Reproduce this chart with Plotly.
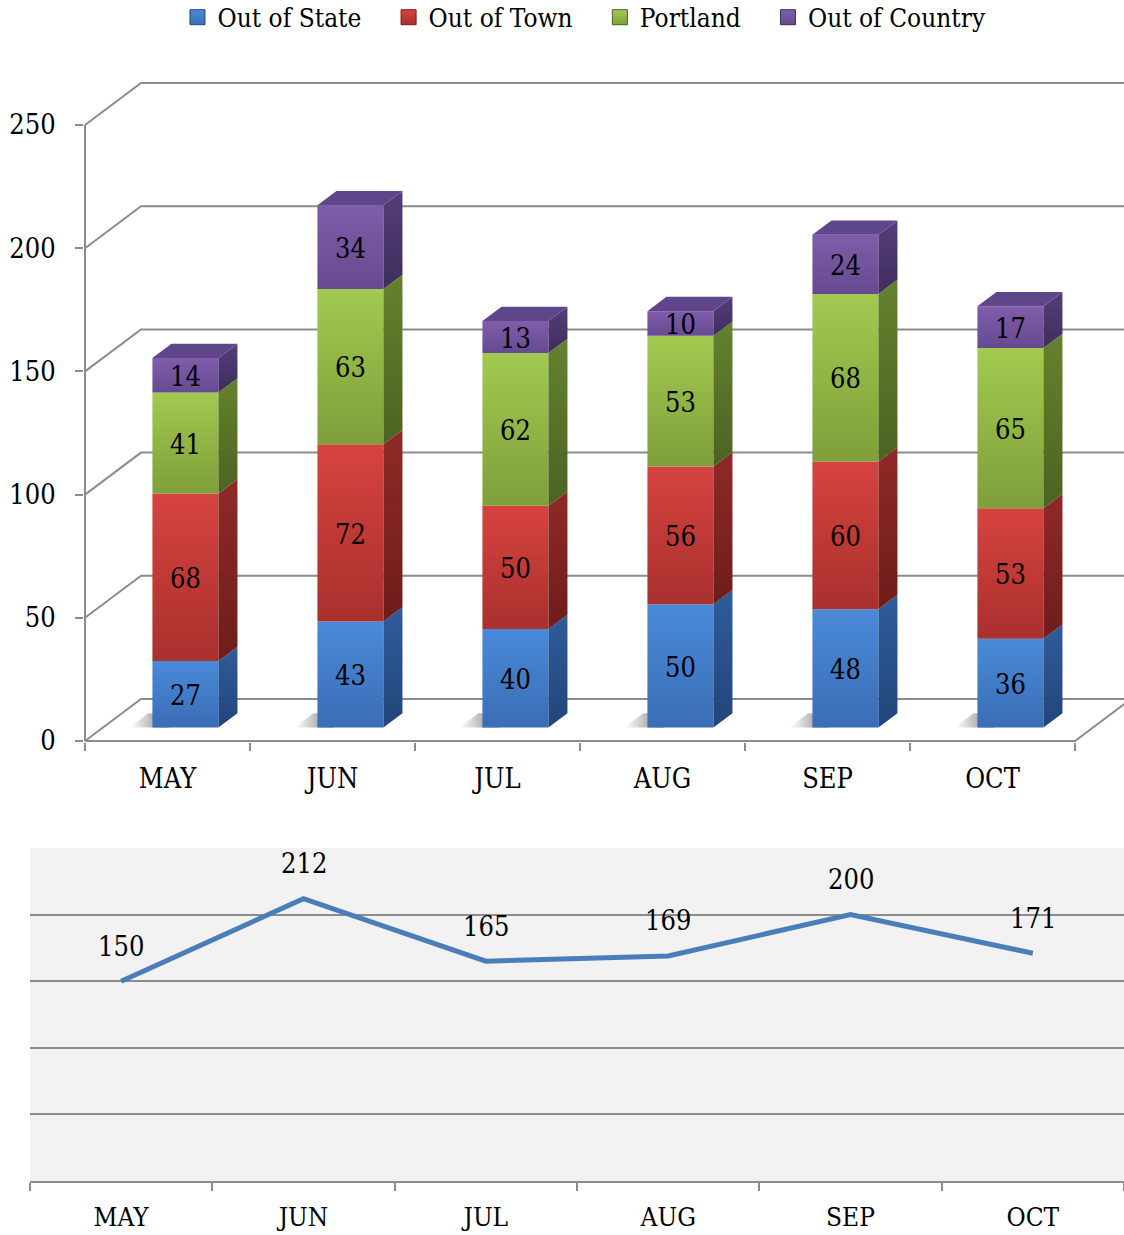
import plotly.graph_objects as go

# ---------------- data ----------------
months = ["MAY", "JUN", "JUL", "AUG", "SEP", "OCT"]
out_of_state = [27, 43, 40, 50, 48, 36]
out_of_town = [68, 72, 50, 56, 60, 53]
portland = [41, 63, 62, 53, 68, 65]
out_of_country = [14, 34, 13, 10, 24, 17]
totals = [150, 212, 165, 169, 200, 171]
y_ticks = [0, 50, 100, 150, 200, 250]

series_names = ["Out of State", "Out of Town", "Portland", "Out of Country"]
series_values = [out_of_state, out_of_town, portland, out_of_country]
# (front light, front dark, side light, side dark, top)
series_colors = [
    ("#4a8ad8", "#3a6db5", "#2f5c9a", "#22457a", "#3d6fae"),
    ("#d6433f", "#a9302d", "#8e2a27", "#6e1d1b", "#b53a37"),
    ("#a2ca50", "#7e9f3a", "#64822e", "#4b6322", "#86a83e"),
    ("#7f5dab", "#664a90", "#543e78", "#3f2d5d", "#5f4589"),
]

# ---------------- geometry (pixel scales -> data units) ----------------
W, H = 1124, 1235
PXX = 165.0          # px per category (top chart)
PXY = 2.464          # px per value unit (top chart)
DX = 56 / PXX        # full depth, x
DY = 42 / PXY        # full depth, y
FRONT, DEPTH, HALF = 0.32, 0.34, 0.2
fx, fy = FRONT * DX, FRONT * DY
bx, by = DEPTH * DX, DEPTH * DY
x_end = -0.5 + (W - 85) / PXX
LABEL_DROP = 4 / PXY

GRID = "#8c8c8c"
FONT = "DejaVu Serif Condensed, Liberation Serif, serif"
NBSP = "\u00a0"

fig = go.Figure()

def poly(xs, ys, c0, c1, lo, hi, kind="vertical", name=None):
    fig.add_trace(go.Scatter(
        x=xs + [xs[0]], y=ys + [ys[0]], mode="lines", fill="toself",
        line=dict(width=0, color=c1),
        fillgradient=dict(type=kind, colorscale=[[0, c0], [1, c1]], start=lo, stop=hi),
        hoverinfo="skip" if name is None else "text", text=name,
        showlegend=False))

# back wall gridlines
for v in y_ticks:
    fig.add_trace(go.Scatter(x=[-0.5, -0.5 + DX, x_end], y=[v, v + DY, v + DY],
                             mode="lines", line=dict(color=GRID, width=2),
                             hoverinfo="skip", showlegend=False))
# floor front / right edges
fig.add_trace(go.Scatter(x=[-0.5, len(months) - 0.5, len(months) - 0.5 + DX], y=[0, 0, DY],
                         mode="lines", line=dict(color=GRID, width=2),
                         hoverinfo="skip", showlegend=False))
# front value axis
fig.add_trace(go.Scatter(x=[-0.5, -0.5], y=[0, y_ticks[-1]], mode="lines",
                         line=dict(color=GRID, width=2), hoverinfo="skip", showlegend=False))

# floor shadows
for i in range(len(months)):
    x0 = i - HALF + fx
    s = 0.14
    poly([x0 - s, x0 + 0.1, x0 + 0.1 + bx, x0 - s + bx],
         [fy, fy, fy + by, fy + by],
         "rgba(120,120,120,0)", "rgba(70,70,70,0.6)", x0 - s, x0 + 0.05, kind="horizontal")

# bars
for i in range(len(months)):
    x0, x1 = i - HALF + fx, i + HALF + fx
    lo = 0.0
    for k, (nm, vals) in enumerate(zip(series_names, series_values)):
        v = vals[i]
        hi = lo + v
        fl, fd, sl, sd, tp = series_colors[k]
        # front face
        poly([x0, x1, x1, x0], [lo + fy, lo + fy, hi + fy, hi + fy], fd, fl, lo + fy, hi + fy,
             name=f"{nm} {months[i]}: {v}")
        # side face
        poly([x1, x1 + bx, x1 + bx, x1], [lo + fy, lo + fy + by, hi + fy + by, hi + fy],
             sd, sl, lo + fy, hi + fy + by)
        if k == len(series_values) - 1:
            poly([x0, x1, x1 + bx, x0 + bx], [hi + fy, hi + fy, hi + fy + by, hi + fy + by],
                 tp, tp, hi + fy, hi + fy + by)
        lo = hi

# value labels
cum = [0] * len(months)
for k, vals in enumerate(series_values):
    xs, ys = [], []
    for i, v in enumerate(vals):
        xs.append(i + fx)
        ys.append(cum[i] + v / 2 + fy - LABEL_DROP)
        cum[i] += v
    fig.add_trace(go.Scatter(x=xs, y=ys, mode="text", text=[str(v) for v in vals],
                             textfont=dict(family=FONT, size=27, color="black"),
                             hoverinfo="skip", showlegend=False))

# legend proxies
for k, nm in enumerate(series_names):
    fl, fd, sl, sd, tp = series_colors[k]
    pad = NBSP * 3 if k < len(series_names) - 1 else ""
    fig.add_trace(go.Scatter(x=[None], y=[None], mode="markers", name=nm + pad,
                             marker=dict(symbol="square", size=15, color=fl,
                                         gradient=dict(type="vertical", color=fd),
                                         line=dict(width=1, color=sd))))

# line chart of totals
fig.add_trace(go.Scatter(x=months, y=totals, xaxis="x2", yaxis="y2", mode="lines",
                         line=dict(color="#4a7ebb", width=5), showlegend=False))

annotations = []
for m, t in zip(months, totals):
    annotations.append(dict(x=m, y=t, xref="x2", yref="y2", text=str(t), showarrow=False,
                            yshift=35, font=dict(family=FONT, size=27, color="black")))

fig.update_layout(
    width=W, height=H, autosize=False,
    margin=dict(l=0, r=0, t=0, b=0, autoexpand=False),
    paper_bgcolor="white", plot_bgcolor="rgba(0,0,0,0)",
    font=dict(family=FONT, color="black"),
    showlegend=True,
    legend=dict(orientation="h", x=0.52, xanchor="center", y=1.005, yanchor="top",
                font=dict(family=FONT, size=26), bgcolor="rgba(0,0,0,0)",
                itemwidth=30),
    xaxis=dict(domain=[84 / W, 1], range=[-0.5 - 1 / PXX, x_end],
               tickmode="array", tickvals=list(range(len(months))), ticktext=months,
               ticks="", showgrid=False, zeroline=False, showline=False,
               tickfont=dict(family=FONT, size=27), ticklabelstandoff=18,
               minor=dict(tickmode="array", tickvals=[i - 0.5 for i in range(len(months) + 1)],
                          ticks="outside", ticklen=8, tickwidth=2, tickcolor=GRID, showgrid=False),
               fixedrange=True),
    yaxis=dict(domain=[1 - 742 / H, 1 - 82 / H], range=[-1 / PXY, (741 - 82) / PXY],
               tickmode="array", tickvals=y_ticks, ticks="outside", ticklen=8, tickwidth=2,
               tickcolor=GRID, showgrid=False, zeroline=False, showline=False,
               tickfont=dict(family=FONT, size=27), ticklabelstandoff=14, fixedrange=True),
    xaxis2=dict(domain=[30 / W, 1], anchor="y2", type="category", tickson="boundaries",
                range=[-0.5, len(months) - 0.5],
                ticks="outside", ticklen=8, tickwidth=2, tickcolor=GRID,
                showline=True, linecolor=GRID, linewidth=2, showgrid=False,
                tickfont=dict(family=FONT, size=26), ticklabelstandoff=12, fixedrange=True),
    yaxis2=dict(domain=[1 - 1181 / H, 1 - 848 / H], anchor="x2", range=[0, 250], dtick=50,
                showgrid=True, gridcolor=GRID, gridwidth=2, showticklabels=False,
                zeroline=False, ticks="", fixedrange=True),
    shapes=[dict(type="rect", xref="x2 domain", yref="y2 domain", x0=0, x1=1, y0=0, y1=1,
                 fillcolor="#f2f2f2", line=dict(width=0), layer="below")],
    annotations=annotations,
)

fig.write_html("out.html",
               config={"responsive": False, "displayModeBar": False},
               post_script="document.body.style.margin='0px';document.body.style.overflow='hidden';")
